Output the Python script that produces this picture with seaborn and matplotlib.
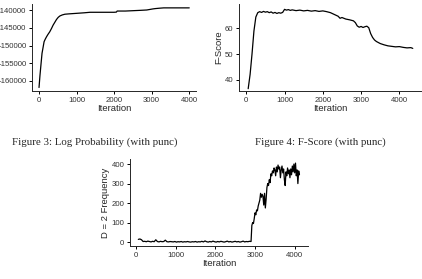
import numpy as np
import pandas as pd
import seaborn as sns
import matplotlib.pyplot as plt

# Figure 3: log probability per iteration
lp_iter = [0, 25, 50, 80, 110, 135, 165, 200, 240, 285, 330, 375, 420, 465, 510, 555, 620, 690,
           800, 1000, 1200, 1360, 1600, 1800, 2000, 2060, 2080, 2300, 2500, 2700, 2870, 2950,
           3030, 3100, 3200, 3320, 3500, 3700, 3900, 4000]
lp_value = [-161900, -158500, -155600, -152200, -150400, -148900, -148200, -147500, -146800,
            -146100, -145200, -144200, -143400, -142600, -142000, -141600, -141300, -141100,
            -141000, -140850, -140700, -140550, -140550, -140550, -140550, -140500, -140200,
            -140200, -140100, -140000, -139900, -139750, -139600, -139500, -139400, -139300,
            -139300, -139300, -139300, -139300]

# Figure 4: F-score per iteration
fs_iter = [50, 100, 150, 200, 250, 300, 350, 400, 450, 500, 550, 600, 650, 700, 750, 800, 850,
           900, 950, 1000, 1050, 1100, 1150, 1200, 1300, 1400, 1500, 1600, 1700, 1800, 1900,
           2000, 2100, 2200, 2300, 2400, 2450, 2500, 2600, 2700, 2800, 2850, 2900, 2950, 3000,
           3050, 3100, 3150, 3200, 3250, 3300, 3350, 3400, 3450, 3500, 3600, 3700, 3800, 3900,
           4000, 4100, 4200, 4300, 4350]
fs_value = [36.4, 42.0, 50.0, 59.0, 64.5, 66.2, 66.6, 66.3, 66.7, 66.4, 66.6, 66.2, 66.5, 66.0,
            66.3, 65.9, 66.2, 66.0, 66.3, 67.5, 67.2, 67.4, 67.1, 67.3, 67.0, 67.2, 66.9, 67.1,
            66.8, 67.0, 66.7, 66.9, 66.6, 66.2, 65.5, 64.8, 64.0, 64.3, 63.7, 63.4, 63.0, 62.3,
            61.0, 60.5, 60.8, 60.4, 60.7, 60.9, 60.3, 58.0, 56.5, 55.5, 54.9, 54.5, 54.1, 53.6,
            53.2, 53.0, 52.8, 52.9, 52.6, 52.4, 52.5, 52.2]

# D = 2 frequency per iteration
df_iter = list(range(60, 2901, 40)) + list(range(2920, 4121, 20))
df_value = [14, 16, 12, 3, 4, 2, 5, 3, 1, 4, 2, 12, 3, 1, 4, 2, 3, 10, 2, 1, 3, 2, 1, 3, 0, 2,
            1, 3, 0, 2, 1, 3, 1, 0, 2, 1, 3, 0, 2, 1, 4, 1, 6, 2, 0, 3, 1, 5, 2, 0, 3, 1, 4, 2,
            0, 2, 5, 1, 3, 0, 2, 4, 1, 3, 0, 2, 5, 1, 3, 2, 4, 3,
            85, 100, 95, 120, 150, 140, 165, 160, 185, 200, 215, 250, 230, 245, 235, 190, 250,
            175, 220, 280, 300, 290, 320, 305, 350, 340, 365, 355, 380, 370, 340, 385, 360, 395,
            375, 385, 330, 370, 390, 355, 375, 320, 290, 360, 340, 380, 350, 370, 330, 375, 345,
            390, 360, 400, 355, 405, 340, 370, 300, 365, 345]

sns.set_theme(style="ticks")
plt.rcParams["font.family"] = ["Liberation Sans", "DejaVu Sans"]
plt.rcParams["axes.linewidth"] = 0.7
plt.rcParams["xtick.major.width"] = 0.7
plt.rcParams["ytick.major.width"] = 0.7
plt.rcParams["xtick.major.size"] = 2.5
plt.rcParams["ytick.major.size"] = 2.5
plt.rcParams["xtick.major.pad"] = 1.5
plt.rcParams["ytick.major.pad"] = 1.5

W, H = 422, 279
fig = plt.figure(figsize=(W / 100, H / 100), dpi=100)


def px_axes(left, right, top, bottom):
    return fig.add_axes([left / W, 1 - bottom / H, (right - left) / W, (bottom - top) / H])


ax1 = px_axes(32, 196, 4, 91)
ax2 = px_axes(239, 421, 4, 91)
ax3 = px_axes(130, 308, 159, 246)

panels = [
    (ax1, lp_iter, lp_value, (-187, 4180), (-162900, -138200), [-160000, -155000, -150000, -145000, -140000], ""),
    (ax2, fs_iter, fs_value, (-190, 4565), (35.5, 69.6), [40, 50, 60], "F-Score"),
    (ax3, df_iter, df_value, (-150, 4335), (-20, 426), [0, 100, 200, 300, 400], "D = 2 Frequency"),
]

for ax, xs, ys, xlim, ylim, yticks, ylab in panels:
    sns.lineplot(x=xs, y=ys, ax=ax, color="black", linewidth=0.9)
    ax.set_xlim(*xlim)
    ax.set_ylim(*ylim)
    ax.set_xticks([0, 1000, 2000, 3000, 4000])
    ax.set_yticks(yticks)
    ax.tick_params(labelsize=5.6, colors="black", labelcolor="#333333")
    ax.set_xlabel("Iteration", fontsize=6.8, labelpad=0.5)
    ax.set_ylabel(ylab, fontsize=6.8, labelpad=1)
    sns.despine(ax=ax)

ax1.set_yticklabels([f"-{abs(v)}" for v in [-160000, -155000, -150000, -145000, -140000]])

fig.text(94.5 / W, 1 - 142 / H, "Figure 3: Log Probability (with punc)", ha="center", va="center",
         family=["Liberation Serif", "DejaVu Serif"], fontsize=7.8)
fig.text(320.5 / W, 1 - 142 / H, "Figure 4: F-Score (with punc)", ha="center", va="center",
         family=["Liberation Serif", "DejaVu Serif"], fontsize=7.8)

fig.savefig("out.png", dpi=100)
